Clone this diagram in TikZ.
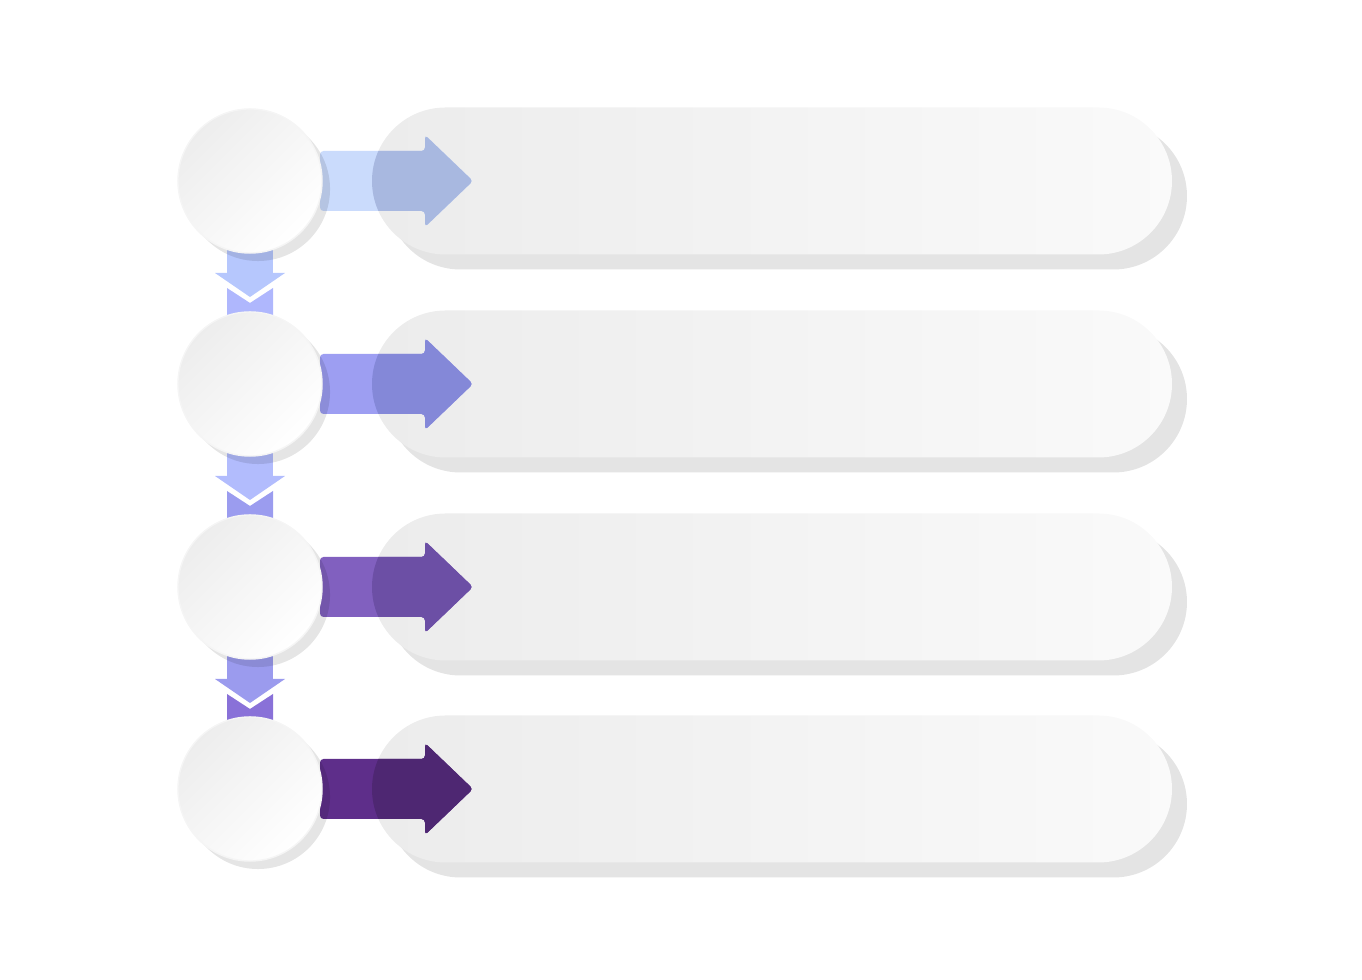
\documentclass[tikz,border=0pt]{standalone}
\usetikzlibrary{positioning}

\definecolor{rowa}{HTML}{CADBFC}
\definecolor{rowad}{HTML}{A8B8E0}
\definecolor{rowb}{HTML}{9D9EF2}
\definecolor{rowbd}{HTML}{8488D8}
\definecolor{rowc}{HTML}{8160BF}
\definecolor{rowcd}{HTML}{6C4FA5}
\definecolor{rowd}{HTML}{5E2E8A}
\definecolor{rowdd}{HTML}{4E2772}
\definecolor{linkab}{HTML}{B6C7FD}
\definecolor{linkabn}{HTML}{AFB7FD}
\definecolor{linkbc}{HTML}{B2BCFD}
\definecolor{linkbcn}{HTML}{9B9CEF}
\definecolor{linkcd}{HTML}{9B9BEE}
\definecolor{linkcdn}{HTML}{8971D8}
\definecolor{shadowgray}{HTML}{E4E4E4}

\tikzset{
  disc/.style={circle, minimum size=1.44cm, inner sep=0pt, shade, top color=gray!14, bottom color=white, shading angle=45, draw=gray!8},
  discshadow/.style={circle, minimum size=1.44cm, inner sep=0pt, fill=black, fill opacity=0.1},
  pill/.style={rounded corners=0.735cm, left color=gray!15, right color=gray!4},
  pillshadow/.style={rounded corners=0.735cm, fill=shadowgray},
}

\begin{document}
\begin{tikzpicture}[x=0.01cm, y=-0.01cm]
\useasboundingbox (0,0) rectangle (1362,980);

%draw the links between the discs
\foreach \cy/\up/\low in {181/linkab/linkabn, 384/linkbc/linkbcn, 587/linkcd/linkcdn}{
  \fill[\up] (227,\cy+60) rectangle (273,\cy+92);
  \fill[\up] (215,\cy+92) -- (285,\cy+92) -- (250,\cy+116) -- cycle;
  \fill[\low] (227,\cy+107) -- (250,\cy+122) -- (273,\cy+107) -- (273,\cy+140) -- (227,\cy+140) -- cycle;
}

%draw the rows: pill, arrow, disc
\foreach \i/\cy/\col/\dark in {1/181/rowa/rowad, 2/384/rowb/rowbd, 3/587/rowc/rowcd, 4/789/rowd/rowdd}{
  \fill[pillshadow] (387,\cy-58.5) rectangle (1187,\cy+88.5);
  \shade[pill] (372,\cy-73.5) rectangle (1172,\cy+73.5);
  \fill[\col, rounded corners=1pt] (320,\cy-30) -- (425,\cy-30) -- (425,\cy-46) -- (473,\cy) -- (425,\cy+46) -- (425,\cy+30) -- (320,\cy+30) -- cycle;
  \begin{scope}
    \clip[rounded corners=0.735cm] (372,\cy-73.5) rectangle (1172,\cy+73.5);
    \fill[\dark, rounded corners=1pt] (320,\cy-30) -- (425,\cy-30) -- (425,\cy-46) -- (473,\cy) -- (425,\cy+46) -- (425,\cy+30) -- (320,\cy+30) -- cycle;
  \end{scope}
  \node[discshadow] (s\i) at (258,\cy+8) {};
  \node[disc] (c\i) at (250,\cy) {};
}

\end{tikzpicture}
\end{document}
